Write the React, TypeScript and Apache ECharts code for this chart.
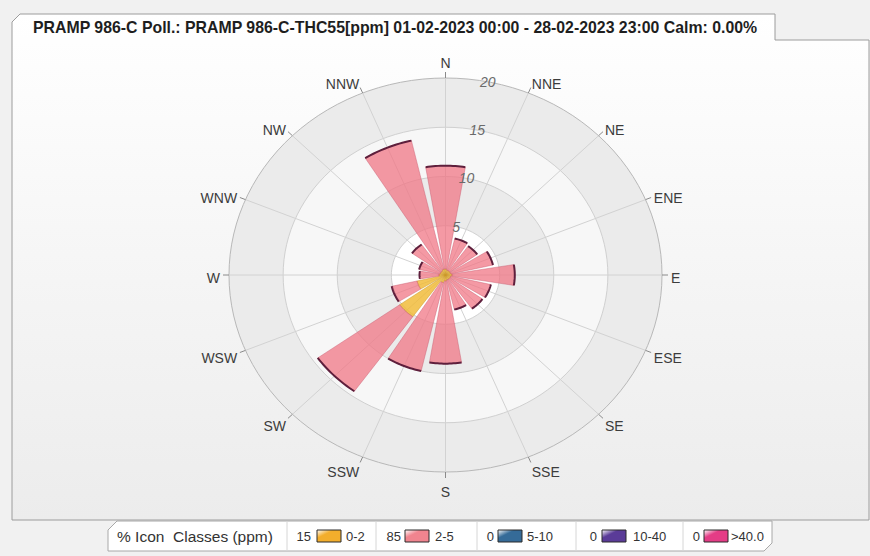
import React, { useEffect, useRef } from "react";
import * as echarts from "echarts";

// ---------- data ----------
const directions = ["N", "NNE", "NE", "ENE", "E", "ESE", "SE", "SSE", "S", "SSW", "SW", "WSW", "W", "WNW", "NW", "NNW"];
// frequency (%) of each concentration class per wind direction
const class0to2 = [0.6, 0.5, 0.5, 0.5, 0.6, 0.5, 0.5, 0.5, 0.6, 0.8, 5.2, 2.7, 0.6, 0.5, 0.5, 0.6];
const class2to5 = [10.5, 3.3, 3.1, 4.0, 5.8, 3.8, 3.7, 3.1, 8.4, 9.2, 9.3, 2.4, 1.8, 2.0, 3.3, 13.4];
const ringTicks = [5, 10, 15, 20];
const radiusMax = 20;

const legendHeader = "% Icon  Classes (ppm)";
const legendClasses = ["0-2", "2-5", "5-10", "10-40", ">40.0"];
const legendPercents = [15, 85, 0, 0, 0];
const titleText = "PRAMP 986-C Poll.: PRAMP 986-C-THC55[ppm] 01-02-2023 00:00 - 28-02-2023 23:00 Calm: 0.00%";

// ---------- styles ----------
const W = 870;
const H = 556;
const FONT = "'Liberation Sans', Arial, sans-serif";
const classFills = ["rgba(240,186,52,0.82)", "rgba(240,118,132,0.74)"];
const classEdges = ["rgba(200,150,40,0.6)", "rgba(200,90,110,0.55)"];
const legendColors = ["#f3ae2c", "#f0848f", "#356b98", "#5a3b98", "#e43c86"];
const bandFills = ["#ffffff", "#ebebeb", "#f7f7f7", "#ebebeb"];
const HALF_WIDTH = 9.5; // degrees each side of a petal's axis
const STEP = 360 / directions.length;

type Pt = number[];
function polarPt(api: any, r: number, deg: number): Pt {
  const a = (deg * Math.PI) / 180;
  return api.coord([r * Math.sin(a), r * Math.cos(a)]);
}
function arcPts(api: any, r: number, d0: number, d1: number, n: number): Pt[] {
  const pts: Pt[] = [];
  for (let k = 0; k <= n; k++) pts.push(polarPt(api, r, d0 + ((d1 - d0) * k) / n));
  return pts;
}

function bandsRender(params: any, api: any) {
  const idx = api.value(1);
  const r = api.value(0);
  const pts = arcPts(api, r, 0, 360, 120);
  return {
    type: "polygon",
    shape: { points: pts },
    style: {
      fill: bandFills[idx],
      stroke: r === radiusMax ? "#b8b8b8" : "#d0d0d0",
      lineWidth: 1,
    },
  };
}

function spokesRender(params: any, api: any) {
  const i = api.value(0);
  const deg = i * STEP;
  const c = api.coord([0, 0]);
  const p = polarPt(api, radiusMax, deg);
  const dx = p[0] - c[0];
  const dy = p[1] - c[1];
  const len = Math.sqrt(dx * dx + dy * dy);
  const ux = dx / len;
  const uy = dy / len;
  const s = Math.sin((deg * Math.PI) / 180);
  const cs = Math.cos((deg * Math.PI) / 180);
  const side = Math.abs(s) > 0.2;
  const tx = side ? p[0] + s * 9 : p[0];
  const ty = side ? p[1] - cs * 12.5 + 3 : p[1] - cs * 17.5 + 2.5;
  return {
    type: "group",
    children: [
      {
        type: "line",
        shape: { x1: c[0], y1: c[1], x2: p[0], y2: p[1] },
        style: { stroke: "#d2d2d2", lineWidth: 1 },
      },
      {
        type: "line",
        shape: { x1: p[0], y1: p[1], x2: p[0] + ux * 6, y2: p[1] + uy * 6 },
        style: { stroke: "#8a8a8a", lineWidth: 1 },
      },
      {
        type: "text",
        style: {
          text: directions[i],
          x: tx,
          y: ty,
          align: side ? (s > 0 ? "left" : "right") : "center",
          verticalAlign: "middle",
          fill: "#3c3c3c",
          font: `14px ${FONT}`,
        },
      },
    ],
  };
}

function makeBarRender(cls: number, isTop: boolean) {
  return function (params: any, api: any) {
    const i = api.value(0);
    const r0 = api.value(1);
    const r1 = api.value(2);
    if (r1 <= r0) return null;
    const mid = i * STEP;
    const a0 = mid - HALF_WIDTH;
    const a1 = mid + HALF_WIDTH;
    const outer = arcPts(api, r1, a0, a1, 16);
    const inner = r0 > 0 ? arcPts(api, r0, a1, a0, 16) : [api.coord([0, 0])];
    const children: any[] = [
      {
        type: "polygon",
        shape: { points: outer.concat(inner) },
        style: { fill: classFills[cls], stroke: classEdges[cls], lineWidth: 0.8 },
      },
    ];
    if (isTop) {
      children.push({
        type: "polyline",
        shape: { points: outer },
        style: { fill: null, stroke: "#5e1f3c", lineWidth: 2 },
      });
    }
    return { type: "group", children };
  };
}

function ringLabelRender(params: any, api: any) {
  const r = api.value(0);
  const p = polarPt(api, r, STEP / 2);
  return {
    type: "text",
    style: {
      text: String(r),
      x: p[0],
      y: p[1],
      align: "center",
      verticalAlign: "middle",
      fill: "#6a6a6a",
      font: `italic 14px ${FONT}`,
    },
  };
}

function buildLegend(): any[] {
  const y0 = 521;
  const y1 = 551;
  const ty = 536;
  const els: any[] = [
    {
      type: "polygon",
      shape: { points: [[108, 530], [117, y0], [772, y0], [772, 543], [764, y1], [108, y1]] },
      style: { fill: "#ffffff", stroke: "#a8a8a8", lineWidth: 1 },
    },
    {
      type: "text",
      style: { text: legendHeader, x: 117, y: ty, verticalAlign: "middle", fill: "#333", font: `15.5px ${FONT}` },
    },
  ];
  const dividers = [287, 376, 477, 576, 683];
  const pctX = [311, 401, 494, 597, 700];
  const swX = [317, 405, 498, 602, 704];
  const labX = [346, 435, 527, 633, 731];
  legendClasses.forEach((lab, k) => {
    els.push({
      type: "line",
      shape: { x1: dividers[k], y1: y0, x2: dividers[k], y2: y1 },
      style: { stroke: "#d6d6d6", lineWidth: 1 },
    });
    els.push({
      type: "text",
      style: {
        text: String(legendPercents[k]),
        x: pctX[k],
        y: ty,
        align: "right",
        verticalAlign: "middle",
        fill: "#333",
        font: `13px ${FONT}`,
      },
    });
    els.push({
      type: "rect",
      shape: { x: swX[k], y: 530, width: 24, height: 12 },
      style: {
        fill: {
          type: "linear", x: 0, y: 0, x2: 1, y2: 1,
          colorStops: [
            { offset: 0, color: "#ffffff" },
            { offset: 0.35, color: legendColors[k] },
            { offset: 1, color: legendColors[k] },
          ],
        },
        stroke: "#2a2a2a",
        lineWidth: 1,
      },
    });
    els.push({
      type: "text",
      style: { text: lab, x: labX[k], y: ty, verticalAlign: "middle", fill: "#333", font: `13px ${FONT}` },
    });
  });
  return els;
}

function buildOption(): any {
  const bandData = ringTicks
    .map((r, idx) => [r, idx])
    .reverse();
  const spokeData = directions.map((_, i) => [i]);
  const data02 = directions.map((_, i) => [i, 0, class0to2[i]]);
  const data25 = directions.map((_, i) => [i, class0to2[i], class0to2[i] + class2to5[i]]);
  const ringData = ringTicks.map((r) => [r]);

  return {
    animation: false,
    backgroundColor: "#f1f1f1",
    grid: { left: 229, top: 78, width: 433, height: 394 },
    xAxis: { type: "value", min: -radiusMax, max: radiusMax, show: false },
    yAxis: { type: "value", min: -radiusMax, max: radiusMax, show: false },
    graphic: [
      {
        type: "polygon",
        z: -10,
        shape: { points: [[12, 22], [20, 14], [775, 14], [775, 40], [869, 40], [869, 520], [12, 520]] },
        style: {
          fill: {
            type: "linear", x: 0, y: 0, x2: 0, y2: 1,
            colorStops: [
              { offset: 0, color: "#ffffff" },
              { offset: 1, color: "#ececec" },
            ],
          },
          stroke: "#9c9c9c",
          lineWidth: 1,
        },
      },
      {
        type: "text",
        z: 10,
        style: { text: titleText, x: 33, y: 27, verticalAlign: "middle", fill: "#1e1e1e", font: `bold 15.85px ${FONT}` },
      },
      ...buildLegend(),
    ],
    series: [
      { type: "custom", coordinateSystem: "cartesian2d", renderItem: bandsRender, data: bandData, silent: true },
      { type: "custom", coordinateSystem: "cartesian2d", renderItem: spokesRender, data: spokeData, silent: true },
      { type: "custom", coordinateSystem: "cartesian2d", renderItem: makeBarRender(0, false), data: data02, name: "0-2" },
      { type: "custom", coordinateSystem: "cartesian2d", renderItem: makeBarRender(1, true), data: data25, name: "2-5" },
      { type: "custom", coordinateSystem: "cartesian2d", renderItem: ringLabelRender, data: ringData, silent: true },
    ],
  };
}

export default function App() {
  const ref = useRef<HTMLDivElement>(null);
  useEffect(() => {
    if (!ref.current) return;
    const chart = echarts.init(ref.current, null, { renderer: "svg" });
    chart.setOption(buildOption());
    return () => chart.dispose();
  }, []);
  return <div ref={ref} style={{ position: "fixed", left: 0, top: 0, width: W, height: H }} />;
}
